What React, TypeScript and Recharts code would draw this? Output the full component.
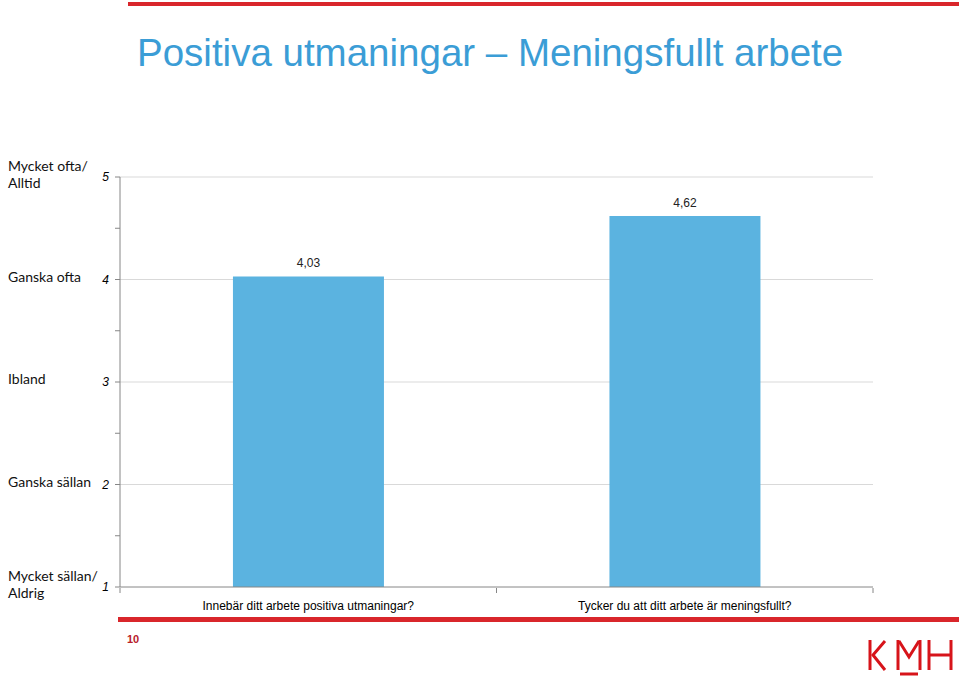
import React from "react";
import {
  BarChart,
  Bar,
  XAxis,
  YAxis,
  CartesianGrid,
  LabelList,
} from "recharts";

const questions = [
  "Innebär ditt arbete positiva utmaningar?",
  "Tycker du att ditt arbete är meningsfullt?",
];
const means = [4.03, 4.62];
const yTicks = [1, 1.5, 2, 2.5, 3, 3.5, 4, 4.5, 5];
const scaleLabels: Record<number, string[]> = {
  5: ["Mycket ofta/", "Alltid"],
  4: ["Ganska ofta"],
  3: ["Ibland"],
  2: ["Ganska sällan"],
  1: ["Mycket sällan/", "Aldrig"],
};

const data = questions.map((q, i) => ({ q, mean: means[i] }));

const RED = "#d9262b";

function YTick(props: any) {
  const { x, y, payload } = props;
  const v = payload.value as number;
  if (!Number.isInteger(v)) return null;
  const lines = scaleLabels[v] || [];
  const lh = 17;
  const startY = y - 3 - ((lines.length - 1) * lh) / 2;
  return (
    <g>
      <text
        x={x - 4}
        y={y + 4}
        textAnchor="end"
        fontSize={12}
        fontStyle="italic"
        fontFamily="Liberation Sans, Arial, sans-serif"
        fill="#000"
      >
        {v}
      </text>
      {lines.map((l, i) => (
        <text
          key={l}
          x={8}
          y={startY + i * lh + 5}
          fontSize={14}
          fontFamily="Lato, 'Noto Sans', sans-serif"
          fill="#111"
        >
          {l}
        </text>
      ))}
    </g>
  );
}

// category label plus tick marks at the band edges
function XTick(props: any) {
  const { x, y, payload, width } = props;
  const half = width / (2 * data.length);
  const axisY = y - 11;
  return (
    <g>
      <line x1={x - half} y1={axisY} x2={x - half} y2={axisY + 5} stroke="#868686" />
      <line x1={x + half} y1={axisY} x2={x + half} y2={axisY + 5} stroke="#868686" />
      <text
        x={x}
        y={y + 11}
        textAnchor="middle"
        fontSize={12}
        fontFamily="Liberation Sans, Arial, sans-serif"
        fill="#000"
      >
        {payload.value}
      </text>
    </g>
  );
}

export default function App() {
  return (
    <div
      style={{
        position: "absolute",
        left: 0,
        top: 0,
        width: 959,
        height: 678,
        background: "#fff",
        overflow: "hidden",
        fontFamily: "Liberation Sans, Arial, sans-serif",
      }}
    >
      <div
        style={{
          position: "absolute",
          left: 128,
          top: 2,
          width: 831,
          height: 4,
          background: RED,
        }}
      />
      <div
        style={{
          position: "absolute",
          left: 137,
          top: 31,
          fontSize: 38.5,
          lineHeight: "44px",
          color: "#3b9dd6",
          whiteSpace: "nowrap",
        }}
      >
        Positiva utmaningar – Meningsfullt arbete
      </div>

      <div style={{ position: "absolute", left: 0, top: 0 }}>
        <BarChart
          width={959}
          height={678}
          data={data}
          margin={{ top: 177, right: 86, bottom: 61, left: 0 }}
          barCategoryGap="30%"
        >
          <CartesianGrid
            vertical={false}
            horizontalValues={[2, 3, 4, 5]}
            stroke="#d9d9d9"
          />
          <XAxis
            dataKey="q"
            height={30}
            tickLine={false}
            axisLine={{ stroke: "#868686" }}
            tick={<XTick />}
            tickMargin={6}
            interval={0}
          />
          <YAxis
            width={120}
            domain={[1, 5]}
            ticks={yTicks}
            interval={0}
            axisLine={{ stroke: "#868686" }}
            tickLine={{ stroke: "#868686" }}
            tickSize={5}
            tick={<YTick />}
          />
          <Bar dataKey="mean" fill="#5bb3e0" isAnimationActive={false}>
            <LabelList
              dataKey="mean"
              position="top"
              offset={9}
              formatter={(v: any) => Number(v).toFixed(2).replace(".", ",")}
              style={{
                fontSize: 12,
                fill: "#222",
                fontFamily: "Liberation Sans, Arial, sans-serif",
              }}
            />
          </Bar>
        </BarChart>
      </div>

      <div
        style={{
          position: "absolute",
          left: 118,
          top: 617,
          width: 841,
          height: 5,
          background: RED,
        }}
      />
      <div
        style={{
          position: "absolute",
          left: 127,
          top: 633,
          fontSize: 11,
          fontWeight: "bold",
          color: "#b8202a",
        }}
      >
        10
      </div>
      <svg
        style={{ position: "absolute", left: 864, top: 636 }}
        width={95}
        height={42}
      >
        <g stroke="#d7141a" strokeWidth={3} fill="none">
          <line x1={6} y1={4} x2={6} y2={34} />
          <polyline points="21,5 9,19 21,34" />
          <line x1={34} y1={4} x2={34} y2={34} />
          <line x1={56} y1={4} x2={56} y2={34} />
          <polyline points="35,5 45,21 55,5" />
          <line x1={36} y1={38} x2={54} y2={38} />
          <line x1={65} y1={4} x2={65} y2={34} />
          <line x1={87} y1={4} x2={87} y2={34} />
          <line x1={65} y1={19} x2={87} y2={19} />
        </g>
      </svg>
    </div>
  );
}
